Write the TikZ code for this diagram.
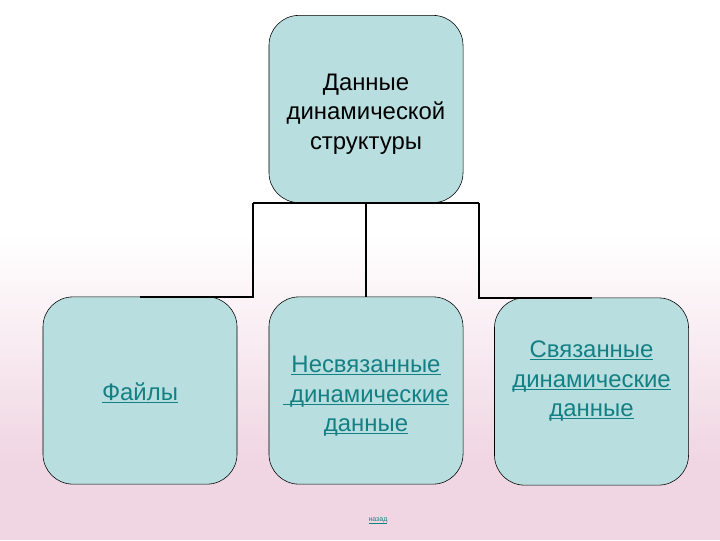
\documentclass[tikz,border=0pt]{standalone}
\usepackage{fontspec}
\setmainfont{Liberation Sans}
\definecolor{boxfill}{RGB}{184,222,224}
\definecolor{linkcol}{RGB}{20,128,132}
\definecolor{bgpink}{RGB}{240,214,226}
\tikzset{
	blockbox/.style={draw=black, thin, fill=boxfill, rounded corners=0.75cm,
		minimum width=4.85cm, minimum height=4.68cm, align=center,
		font=\fontsize{17}{21}\selectfont},
	linktext/.style={text=linkcol},
	wire/.style={draw=black, line width=1.5pt}
}
\newcommand{\lnk}[1]{\underline{\smash{#1}}\vphantom{#1}}
\newcommand{\up}[1]{\rule{0pt}{#1}}
\newcommand{\dn}[1]{\rule[-#1]{0pt}{0pt}}
\begin{document}
\begin{tikzpicture}[x=0.025cm, y=-0.025cm]
				% фон
				\useasboundingbox (0,0) rectangle (720,540);
				\fill[white] (0,0) rectangle (720,235);
				\shade[top color=white, bottom color=bgpink] (0,235) rectangle (720,460);
				\fill[bgpink] (0,460) rectangle (720,540);
				% блоки
				\node[blockbox] (top) at (366,109) {\up{19pt}Данные\\динамической\\структуры};
				\node[blockbox, linktext] (files) at (140,390.5) {\up{16pt}\lnk{Файлы}};
				\node[blockbox, linktext] (unlinked) at (366,390.5) {\up{20pt}\lnk{Несвязанные}\\\lnk{\ динамические}\\\lnk{данные}};
				\node[blockbox, linktext] (linked) at (591.5,391.5) {\lnk{Связанные}\\\lnk{динамические}\\\lnk{данные}\dn{18pt}};
				% связи
				\coordinate (jl) at (253,203);
				\coordinate (jr) at (479,203);
				\draw[wire] (jl) -- (jr);
				\draw[wire] (top.south) -- (unlinked.north);
				\draw[wire] (jl) |- (files.north);
				\draw[wire] (jr) |- (linked.north);
				\node[linktext, font=\fontsize{5}{6}\selectfont] (back) at (378,521) {\lnk{назад}};
\end{tikzpicture}
\end{document}
